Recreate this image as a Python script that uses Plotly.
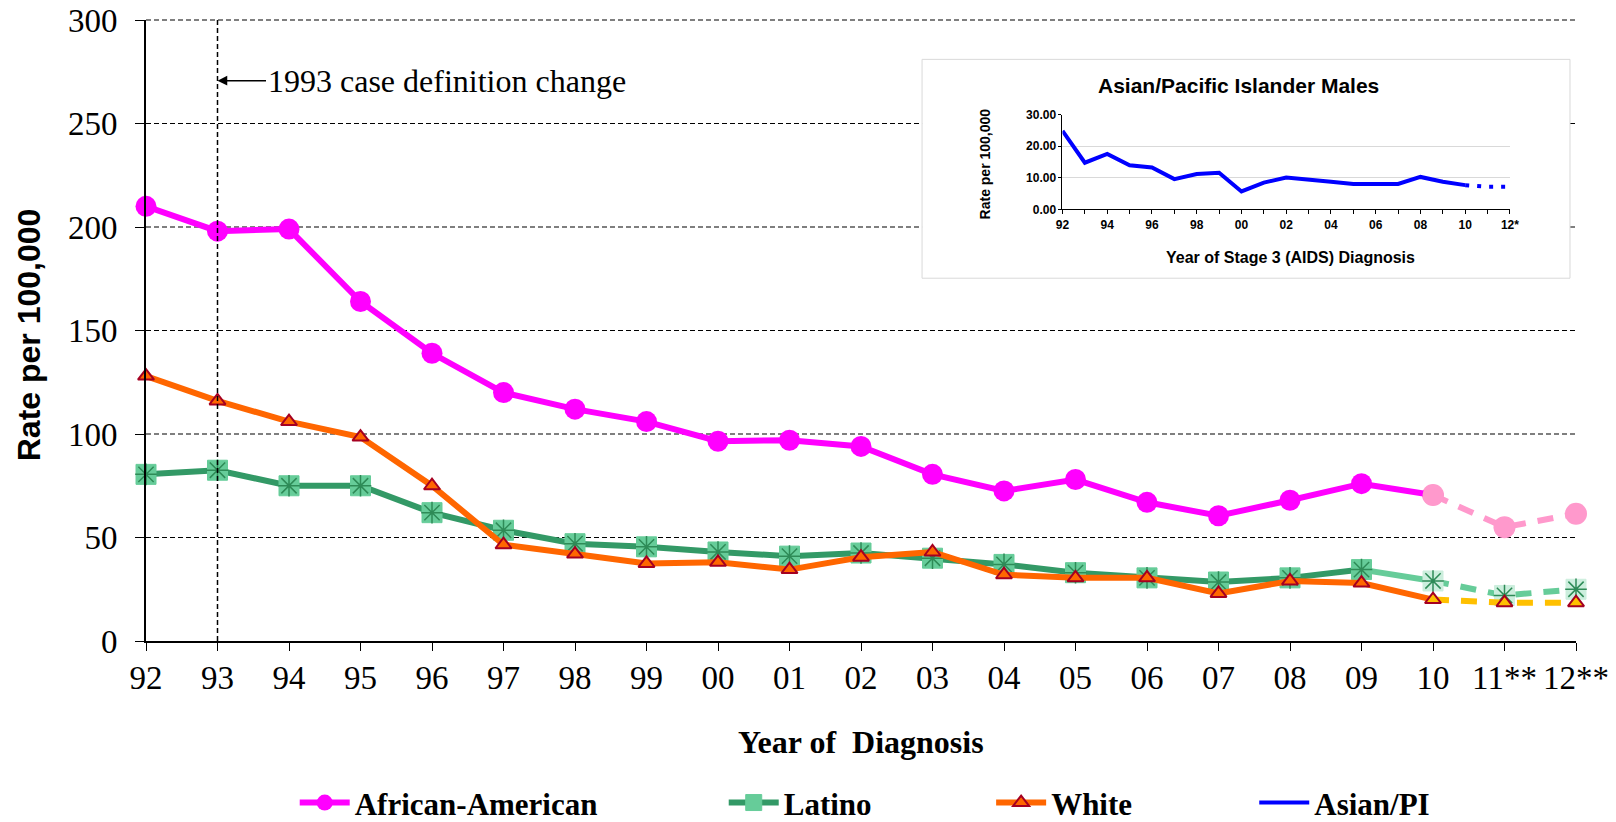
"""AIDS diagnosis rates per 100,000 among males by race/ethnicity, 1992-2012."""

import plotly.graph_objects as go

years = ["92", "93", "94", "95", "96", "97", "98", "99", "00", "01", "02",
         "03", "04", "05", "06", "07", "08", "09", "10", "11**", "12**"]
african_american = [210, 198, 199, 164, 139, 120, 112, 106, 96.5, 97, 94,
                    80.5, 72.5, 78, 67, 60.5, 68, 76, 70.5, 55, 61.5]
latino = [80.5, 82.5, 75, 75, 62, 53.5, 47, 45.5, 43, 41, 42.5,
          40, 37, 33, 30.5, 28.5, 30.5, 34.5, 29, 22, 25]
white = [128, 116, 106, 98.5, 75, 46.5, 42, 37.5, 38, 34.5, 40.5,
         43, 32, 30.5, 30.5, 23, 29, 28, 20, 18.5, 18.5]

inset_ticktext = ["92", "", "94", "", "96", "", "98", "", "00", "", "02",
                  "", "04", "", "06", "", "08", "", "10", "", "12*"]
asian_pi = [24.9, 14.8, 17.6, 14.0, 13.3, 9.6, 11.2, 11.6, 5.7, 8.5, 10.1,
            9.6, 8.8, 8.1, 8.0, 8.1, 10.3, 8.8, 7.7, 7.2, 7.2]

grid_vals = [50, 100, 150, 200, 250, 300]

LAST = 18  # index of "10": last reported year; after it values are projected
CASE_DEF = 1  # index of "93", the 1993 case definition change

SERIF = "Liberation Serif, Times New Roman, serif"
SANS = "Liberation Sans, Arial, sans-serif"

fig = go.Figure()

# ---- Latino ----
fig.add_trace(go.Scatter(
    x=years[LAST:], y=latino[LAST:], mode="lines", showlegend=False,
    line=dict(color="#66CC99", width=6, dash="16px,12px"), cliponaxis=False,
))
fig.add_trace(go.Scatter(
    x=years[LAST - 1:LAST + 1], y=latino[LAST - 1:LAST + 1], mode="lines",
    showlegend=False, line=dict(color="#66CC99", width=6), cliponaxis=False,
))
fig.add_trace(go.Scatter(
    x=years[:LAST], y=latino[:LAST], mode="lines+markers", name="Latino",
    legend="legend2",
    line=dict(color="#339966", width=6),
    marker=dict(symbol="square", size=20, color="#66CC99",
                line=dict(color="#66CC99", width=1)),
    cliponaxis=False,
))
fig.add_trace(go.Scatter(
    x=years[LAST:], y=latino[LAST:], mode="markers", showlegend=False,
    marker=dict(symbol="square", size=20, color="#CCEEDD",
                line=dict(color="#CCEEDD", width=1)),
    cliponaxis=False,
))
fig.add_trace(go.Scatter(
    x=years, y=latino, mode="markers", showlegend=False,
    marker=dict(symbol="asterisk-open", size=18, color="#2E8B57",
                line=dict(color="#2E8B57", width=1.5)),
    cliponaxis=False,
))

# ---- White ----
fig.add_trace(go.Scatter(
    x=years[LAST:], y=white[LAST:], mode="lines", showlegend=False,
    line=dict(color="#FFC000", width=6, dash="16px,12px"), cliponaxis=False,
))
fig.add_trace(go.Scatter(
    x=years[:LAST + 1], y=white[:LAST + 1], mode="lines+markers", name="White",
    legend="legend3",
    line=dict(color="#FF6600", width=6),
    marker=dict(symbol="triangle-up", size=14,
                color=["#FF6600"] * LAST + ["#FFC000"],
                line=dict(color="#A50021", width=2)),
    cliponaxis=False,
))
fig.add_trace(go.Scatter(
    x=years[LAST + 1:], y=white[LAST + 1:], mode="markers", showlegend=False,
    marker=dict(symbol="triangle-up", size=14, color="#FFC000",
                line=dict(color="#A50021", width=2)),
    cliponaxis=False,
))

# ---- African-American ----
fig.add_trace(go.Scatter(
    x=years[LAST:], y=african_american[LAST:], mode="lines+markers",
    showlegend=False,
    line=dict(color="#FF99CC", width=6, dash="16px,12px"),
    marker=dict(size=22, color="#FF99CC"),
    cliponaxis=False,
))
fig.add_trace(go.Scatter(
    x=years[:LAST + 1], y=african_american[:LAST + 1], mode="lines+markers",
    name="African-American", legend="legend",
    line=dict(color="#FF00FF", width=6),
    marker=dict(size=21, color=["#FF00FF"] * LAST + ["#FF99CC"]),
    cliponaxis=False,
))

# ---- Asian/PI inset ----
fig.add_trace(go.Scatter(
    x=years[:LAST + 1], y=asian_pi[:LAST + 1], mode="lines", name="Asian/PI",
    legend="legend4", xaxis="x2", yaxis="y2",
    line=dict(color="#0000FF", width=4), cliponaxis=False,
))
fig.add_trace(go.Scatter(
    x=years[LAST:], y=asian_pi[LAST:], mode="lines", showlegend=False,
    xaxis="x2", yaxis="y2",
    line=dict(color="#0000FF", width=4, dash="4px,8px"), cliponaxis=False,
))

# dashed gridlines, then the opaque inset box over them
shapes = [
    dict(type="line", xref="paper", yref="paper", x0=0, x1=1,
         y0=v / 300, y1=v / 300, layer="below",
         line=dict(color="black", width=1.2, dash="5px,3px"))
    for v in grid_vals
]
shapes.append(dict(type="rect", xref="paper", yref="paper",
                   x0=0.5427, x1=0.9958, y0=0.5842, y1=0.9366, layer="below",
                   fillcolor="white", line=dict(color="#D9D9D9", width=1)))
shapes.append(dict(type="line", xref="x", yref="y", x0=CASE_DEF, x1=CASE_DEF,
                   y0=0, y1=300,
                   line=dict(color="black", width=1.5, dash="5px,3px")))

annotations = [
    dict(x=CASE_DEF, y=270.7, xref="x", yref="y",
         text="1993 case definition change",
         showarrow=True, ax=229, ay=0, arrowhead=2, arrowsize=1.3,
         arrowwidth=1.5, arrowcolor="black",
         font=dict(family=SERIF, size=32, color="black")),
    dict(x=-0.0818, y=0.4924, xref="paper", yref="paper", textangle=-90,
         xanchor="center", yanchor="middle",
         text="<b>Rate per 100,000</b>", showarrow=False,
         font=dict(family=SANS, size=32, color="black")),
    dict(x=0.5, y=-0.1625, xref="paper", yref="paper",
         xanchor="center", yanchor="middle",
         text="<b>Year of  Diagnosis</b>", showarrow=False,
         font=dict(family=SERIF, size=32, color="black")),
    dict(x=0.7643, y=0.894, xref="paper", yref="paper",
         xanchor="center", yanchor="middle",
         text="<b>Asian/Pacific Islander Males</b>", showarrow=False,
         font=dict(family=SANS, size=21, color="black")),
    dict(x=0.80, y=0.617, xref="paper", yref="paper",
         xanchor="center", yanchor="middle",
         text="<b>Year of Stage 3 (AIDS) Diagnosis</b>", showarrow=False,
         font=dict(family=SANS, size=16, color="black")),
    dict(x=0.5867, y=0.769, xref="paper", yref="paper", textangle=-90,
         xanchor="center", yanchor="middle",
         text="<b>Rate per 100,000</b>", showarrow=False,
         font=dict(family=SANS, size=14, color="black")),
]

legend_font = dict(family=SERIF, size=31, color="black", weight="bold")
legend_common = dict(orientation="h", yanchor="middle", y=-0.2607,
                     xanchor="left", bgcolor="rgba(0,0,0,0)",
                     font=legend_font, itemwidth=50)

fig.update_layout(
    width=1616,
    height=822,
    paper_bgcolor="white",
    plot_bgcolor="rgba(0,0,0,0)",
    margin=dict(l=146, r=40, t=20, b=181, autoexpand=False),
    xaxis=dict(
        type="category", categoryorder="array", categoryarray=years,
        range=[0, 20], showgrid=False, showline=True, linecolor="black",
        linewidth=2, ticks="outside", ticklen=8, tickcolor="black",
        tickfont=dict(family=SERIF, size=33, color="black"),
        ticklabelstandoff=-2,
    ),
    yaxis=dict(
        range=[0, 300], tickvals=[0] + grid_vals, showgrid=False,
        zeroline=False, showline=True, linecolor="black", linewidth=2,
        ticks="outside", ticklen=9, tickcolor="black",
        tickfont=dict(family=SERIF, size=33, color="black"),
        ticklabelstandoff=11, ticklabeloverflow="allow",
    ),
    xaxis2=dict(
        domain=[0.6409, 0.9538], anchor="y2", type="category",
        categoryorder="array", categoryarray=years, range=[0, 20],
        tickmode="array", tickvals=years, ticktext=inset_ticktext,
        showgrid=False, showline=True, linecolor="black", linewidth=1,
        ticks="outside", ticklen=4, tickcolor="black",
        tickfont=dict(family=SANS, size=12, color="black", weight="bold"),
        ticklabelstandoff=0,
    ),
    yaxis2=dict(
        domain=[0.6949, 0.8475], anchor="x2", range=[0, 30], dtick=10,
        tickformat=".2f", showgrid=True, gridcolor="#D9D9D9", gridwidth=1,
        zeroline=False, showline=True, linecolor="black", linewidth=1,
        ticks="outside", ticklen=3, tickcolor="black",
        tickfont=dict(family=SANS, size=12, color="black", weight="bold"),
    ),
    legend=dict(x=0.104, **legend_common),
    legend2=dict(x=0.404, **legend_common),
    legend3=dict(x=0.591, **legend_common),
    legend4=dict(x=0.775, **legend_common),
    shapes=shapes,
    annotations=annotations,
)

# drop the browser's default 8px body margin so the figure fills the window
fig.write_html(
    "out.html",
    config={"displayModeBar": False},
    post_script="document.body.style.margin = '0';",
)
